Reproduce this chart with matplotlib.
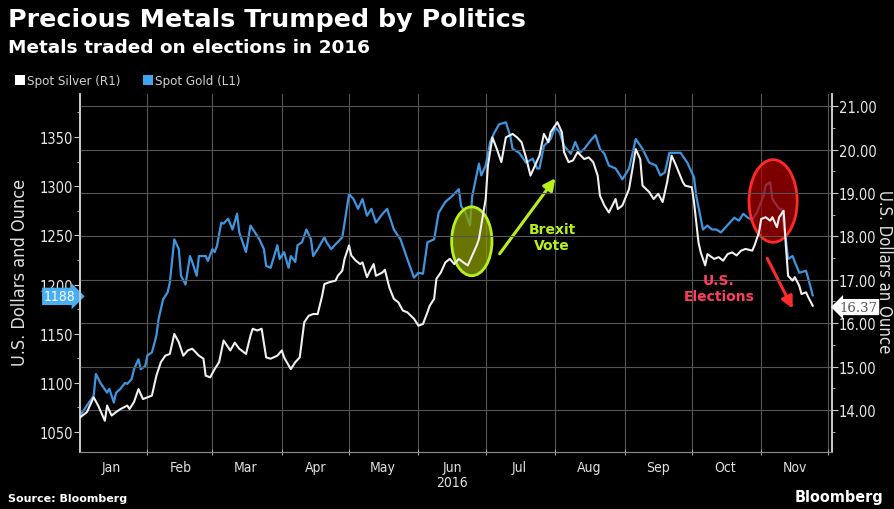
import datetime as dt
import matplotlib
matplotlib.use("Agg")
import matplotlib.pyplot as plt
import matplotlib.dates as mdates
from matplotlib.patches import Ellipse, Rectangle
from matplotlib.ticker import FixedLocator, MultipleLocator, NullFormatter
from matplotlib.transforms import blended_transform_factory

# spot gold, US$ per ounce (left axis), day offsets from 1 Jan 2016
gold_days = [1, 4, 7, 8, 10, 13, 14, 16, 17, 19, 21, 22, 24, 25, 27, 28, 30, 31, 33, 35,
             36, 38, 40, 41, 43, 45, 46, 48, 50, 51, 53, 54, 57, 58, 60, 61, 62, 64, 65, 67,
             69, 71, 72, 75, 77, 79, 81, 83, 84, 86, 89, 90, 92, 94, 95, 97, 98, 100, 102, 104,
             105, 107, 110, 111, 113, 115, 118, 121, 123, 125, 127, 129, 131, 133, 136, 138, 141, 144, 147, 150,
             152, 154, 156, 159, 161, 164, 167, 170, 171, 173, 175, 176, 179, 180, 182, 184, 186, 188, 191, 193,
             194, 197, 200, 203, 205, 206, 208, 211, 213, 215, 217, 220, 222, 224, 226, 229, 231, 233, 235, 237,
             240, 242, 243, 246, 249, 252, 255, 258, 260, 262, 264, 269, 272, 275, 276, 278, 279, 281, 283, 285,
             287, 289, 291, 293, 295, 297, 299, 301, 303, 306, 307, 309, 310, 313, 314, 316, 317, 319, 320, 322,
             325, 326, 328]
gold = [1067, 1077, 1087, 1109, 1100, 1090, 1094, 1080, 1090, 1094, 1100, 1099, 1104, 1114, 1124, 1114, 1117, 1128, 1131, 1148,
        1165, 1185, 1192, 1202, 1246, 1236, 1209, 1200, 1229, 1223, 1209, 1229, 1229, 1224, 1236, 1233, 1239, 1263, 1262, 1267,
        1256, 1272, 1253, 1233, 1260, 1253, 1246, 1236, 1219, 1217, 1240, 1226, 1233, 1217, 1229, 1223, 1240, 1243, 1256, 1246,
        1229, 1236, 1248, 1243, 1236, 1241, 1248, 1292, 1287, 1277, 1287, 1270, 1277, 1263, 1272, 1277, 1256, 1246, 1226, 1207,
        1212, 1211, 1243, 1246, 1273, 1284, 1290, 1297, 1280, 1273, 1260, 1290, 1323, 1311, 1321, 1345, 1355, 1363, 1365, 1351,
        1338, 1334, 1324, 1328, 1318, 1318, 1341, 1348, 1360, 1355, 1341, 1333, 1345, 1334, 1338, 1347, 1352, 1338, 1333, 1321,
        1318, 1311, 1307, 1318, 1348, 1338, 1324, 1321, 1311, 1314, 1334, 1334, 1324, 1309, 1290, 1267, 1256, 1260, 1256, 1256,
        1253, 1258, 1263, 1268, 1265, 1272, 1268, 1266, 1273, 1290, 1301, 1304, 1287, 1277, 1277, 1246, 1226, 1229, 1223, 1212,
        1214, 1206, 1189]

# spot silver, US$ per ounce (right axis)
silver_days = [1, 4, 7, 9, 12, 13, 15, 17, 19, 22, 23, 25, 27, 29, 31, 33, 35, 37, 39, 41,
               43, 45, 47, 49, 51, 54, 56, 57, 59, 61, 63, 65, 68, 70, 72, 75, 77, 78, 80, 82,
               84, 86, 89, 91, 92, 95, 97, 99, 101, 103, 105, 107, 109, 110, 112, 115, 116, 118, 119, 121,
               122, 124, 126, 127, 129, 130, 132, 133, 136, 137, 139, 141, 143, 145, 147, 150, 152, 154, 156, 157,
               159, 160, 162, 164, 166, 168, 170, 172, 174, 176, 178, 179, 180, 182, 183, 185, 187, 189, 191, 194,
               196, 198, 200, 202, 204, 206, 208, 210, 211, 214, 216, 217, 219, 221, 223, 226, 228, 230, 232, 233,
               235, 237, 240, 241, 243, 246, 248, 249, 251, 252, 255, 257, 259, 261, 263, 265, 267, 270, 271, 274,
               275, 277, 278, 280, 281, 284, 286, 288, 290, 292, 294, 296, 298, 301, 302, 304, 305, 307, 309, 310,
               312, 313, 315, 316, 317, 319, 320, 322, 323, 325, 326, 328]
silver = [13.83, 13.95, 14.29, 14.10, 13.75, 14.10, 13.87, 13.95, 14.02, 14.10, 14.02, 14.18, 14.48, 14.25, 14.29, 14.33, 14.79, 15.10, 15.25, 15.29,
          15.75, 15.56, 15.25, 15.37, 15.41, 15.25, 15.18, 14.79, 14.75, 14.94, 15.10, 15.60, 15.37, 15.55, 15.41, 15.29, 15.71, 15.87, 15.83, 15.87,
          15.21, 15.18, 15.25, 15.37, 15.21, 14.94, 15.10, 15.21, 16.02, 16.17, 16.21, 16.21, 16.63, 16.90, 16.94, 16.98, 17.09, 17.21, 17.48, 17.79,
          17.56, 17.44, 17.36, 17.40, 17.06, 17.17, 17.36, 17.09, 17.17, 17.23, 16.82, 16.56, 16.48, 16.29, 16.25, 16.10, 15.94, 15.98, 16.25, 16.40,
          16.56, 17.02, 17.17, 17.40, 17.48, 17.36, 17.48, 17.40, 17.33, 17.56, 17.79, 17.94, 18.25, 18.86, 19.63, 20.28, 20.01, 19.71, 20.28, 20.36,
          20.28, 20.17, 19.82, 19.40, 19.63, 19.86, 20.36, 20.17, 20.40, 20.63, 20.40, 19.94, 19.71, 19.75, 19.94, 19.78, 19.82, 19.71, 19.40, 18.94,
          18.71, 18.55, 18.86, 18.63, 18.71, 19.09, 19.71, 20.01, 19.78, 19.17, 19.02, 18.86, 18.98, 18.79, 19.25, 19.86, 19.63, 19.25, 19.17, 19.13,
          18.79, 17.86, 17.63, 17.33, 17.59, 17.48, 17.52, 17.44, 17.59, 17.63, 17.56, 17.67, 17.71, 17.67, 17.79, 18.09, 18.40, 18.44, 18.36, 18.44,
          18.21, 18.44, 18.59, 17.79, 17.09, 16.98, 17.06, 16.86, 16.67, 16.71, 16.60, 16.40]

gold_ticks = [1050, 1100, 1150, 1200, 1250, 1300, 1350]
silver_ticks = [13, 14, 15, 16, 17, 18, 19, 20, 21]
gold_last = 1188
silver_last = 16.37

BLUE = "#3f95de"
WHITE = "#f0f0f0"
GRID = "#555555"
LIME = "#b8f01e"
RED = "#ff2a2a"
COND = dict(family="DejaVu Sans", stretch="condensed")

base = dt.datetime(2016, 1, 1)
t0 = mdates.date2num(base)
gold_dates = [base + dt.timedelta(days=d) for d in gold_days]
silver_dates = [base + dt.timedelta(days=d) for d in silver_days]

fig = plt.figure(figsize=(8.95, 5.10), dpi=100, facecolor="black")
ax = fig.add_axes([80 / 895, 1 - 453 / 510, 752 / 895, 358 / 510])
ax.set_facecolor("black")
axr = ax.twinx()

ax.plot(gold_dates, gold, color=BLUE, lw=1.6, zorder=3)
axr.plot(silver_dates, silver, color=WHITE, lw=1.5, zorder=3)

ax.set_xlim(t0 + 0.9, t0 + 336.6)
ax.set_ylim(1029.7, 1393.8)
axr.set_ylim(13.03, 21.28)

# x axis: month boundaries as ticks/grid, names mid-month
ax.xaxis.set_major_locator(mdates.MonthLocator())
ax.xaxis.set_major_formatter(NullFormatter())
ax.xaxis.set_minor_locator(mdates.MonthLocator(bymonthday=16))
ax.xaxis.set_minor_formatter(mdates.DateFormatter("%b"))
ax.tick_params(axis="x", which="major", length=4, color="#aaaaaa", direction="inout")
ax.tick_params(axis="x", which="minor", length=0, pad=6, labelcolor="#e0e0e0", labelsize=10)
for lab in ax.xaxis.get_minorticklabels():
    lab.set_stretch("condensed")
ax.grid(axis="x", which="major", color=GRID, lw=0.8)
ax.text(t0 + 167, -0.085, "2016", transform=blended_transform_factory(ax.transData, ax.transAxes),
        ha="center", va="center", color="#e0e0e0", fontsize=10, **COND)

# left axis (gold)
ax.yaxis.set_major_locator(FixedLocator(gold_ticks))
ax.yaxis.set_minor_locator(MultipleLocator(25))
ax.tick_params(axis="y", which="major", length=4, color="#cccccc", labelcolor="#e8e8e8", labelsize=10.5, pad=1)
ax.tick_params(axis="y", which="minor", length=2, color="#cccccc")
for lab in ax.get_yticklabels():
    lab.set_stretch("condensed")

# right axis (silver)
axr.yaxis.set_major_locator(FixedLocator(silver_ticks))
axr.yaxis.set_minor_locator(MultipleLocator(0.5))
axr.set_yticklabels(["%.2f" % t for t in silver_ticks])
axr.tick_params(axis="y", which="major", length=4, color="#cccccc", labelcolor="#e8e8e8", labelsize=10.5, pad=1)
axr.tick_params(axis="y", which="minor", length=2, color="#cccccc")
for lab in axr.get_yticklabels():
    lab.set_stretch("condensed")
axr.grid(axis="y", color=GRID, lw=0.8)

for a in (ax, axr):
    a.spines["top"].set_visible(False)
    a.spines["left"].set_color("#cccccc")
    a.spines["right"].set_color("#cccccc")
    a.spines["bottom"].set_color("#888888")
    a.spines["left"].set_linewidth(1.2)
    a.spines["right"].set_linewidth(1.2)

# last value tags
ax.text(-0.006, gold_last, str(gold_last), transform=blended_transform_factory(ax.transAxes, ax.transData),
        ha="right", va="center", color="white", fontsize=10, zorder=10, **COND,
        bbox=dict(boxstyle="rarrow,pad=0.12", fc="#49aef2", ec="none"))
axr.text(1.01, silver_last, "%.2f" % silver_last, transform=blended_transform_factory(axr.transAxes, axr.transData),
         ha="left", va="center", color="#555555", fontsize=9.5, family="DejaVu Serif", zorder=10,
         bbox=dict(boxstyle="larrow,pad=0.12", fc="white", ec="none"))

# annotations
ax.add_patch(Ellipse((t0 + 175.8, 1244), width=18, height=70,
                     fc=(0.55, 0.62, 0.0, 0.75), ec=LIME, lw=2, zorder=5))
ax.add_patch(Ellipse((t0 + 310.3, 1285), width=21.5, height=84,
                     fc=(0.7, 0.0, 0.0, 0.7), ec=RED, lw=2, zorder=5))
ax.annotate("", xy=(557, 333), xytext=(498, 253), xycoords="figure pixels", textcoords="figure pixels",
            arrowprops=dict(arrowstyle="-|>,head_length=0.7,head_width=0.35", color=LIME, lw=2.2))
ax.annotate("", xy=(794, 198), xytext=(766, 253), xycoords="figure pixels", textcoords="figure pixels",
            arrowprops=dict(arrowstyle="-|>,head_length=0.7,head_width=0.35", color=RED, lw=2.2))
fig.text(552 / 895, 1 - 238 / 510, "Brexit\nVote", ha="center", va="center", color=LIME,
         fontsize=10, fontweight="bold", linespacing=1.1)
fig.text(719 / 895, 1 - 289 / 510, "U.S.\nElections", ha="center", va="center", color="#ff3d5f",
         fontsize=10, fontweight="bold", linespacing=1.1)

# titles
fig.text(8 / 895, 1 - 20 / 510, "Precious Metals Trumped by Politics", ha="left", va="center",
         color="white", fontsize=18.3, fontweight="bold")
fig.text(8 / 895, 1 - 48 / 510, "Metals traded on elections in 2016", ha="left", va="center",
         color="white", fontsize=13.3, fontweight="bold")

# legend
fig.patches.append(Rectangle((15 / 895, 1 - 86 / 510), 10 / 895, 10 / 510, transform=fig.transFigure,
                             fc="white", ec="none"))
fig.text(27 / 895, 1 - 81 / 510, "Spot Silver (R1)", ha="left", va="center", color="#d0d0d0",
         fontsize=9.5, **COND)
fig.patches.append(Rectangle((143 / 895, 1 - 86 / 510), 10 / 895, 10 / 510, transform=fig.transFigure,
                             fc="#3fa6f0", ec="none"))
fig.text(155 / 895, 1 - 81 / 510, "Spot Gold (L1)", ha="left", va="center", color="#d0d0d0",
         fontsize=9.5, **COND)

# axis titles
fig.text(20 / 895, 1 - 272 / 510, "U.S. Dollars and Ounce", rotation=90, ha="center", va="center",
         color="#e0e0e0", fontsize=13, **COND)
fig.text(884 / 895, 1 - 272 / 510, "U.S. Dollars an Ounce", rotation=270, ha="center", va="center",
         color="#e0e0e0", fontsize=12, **COND)

# footer
fig.text(8 / 895, 1 - 499 / 510, "Source: Bloomberg", ha="left", va="center", color="white",
         fontsize=8, fontweight="bold")
fig.text(795 / 895, 1 - 498 / 510, "Bloomberg", ha="left", va="center", color="white",
         fontsize=11.5, fontweight="bold", **COND)

fig.savefig("out.png", dpi=100, facecolor="black")
